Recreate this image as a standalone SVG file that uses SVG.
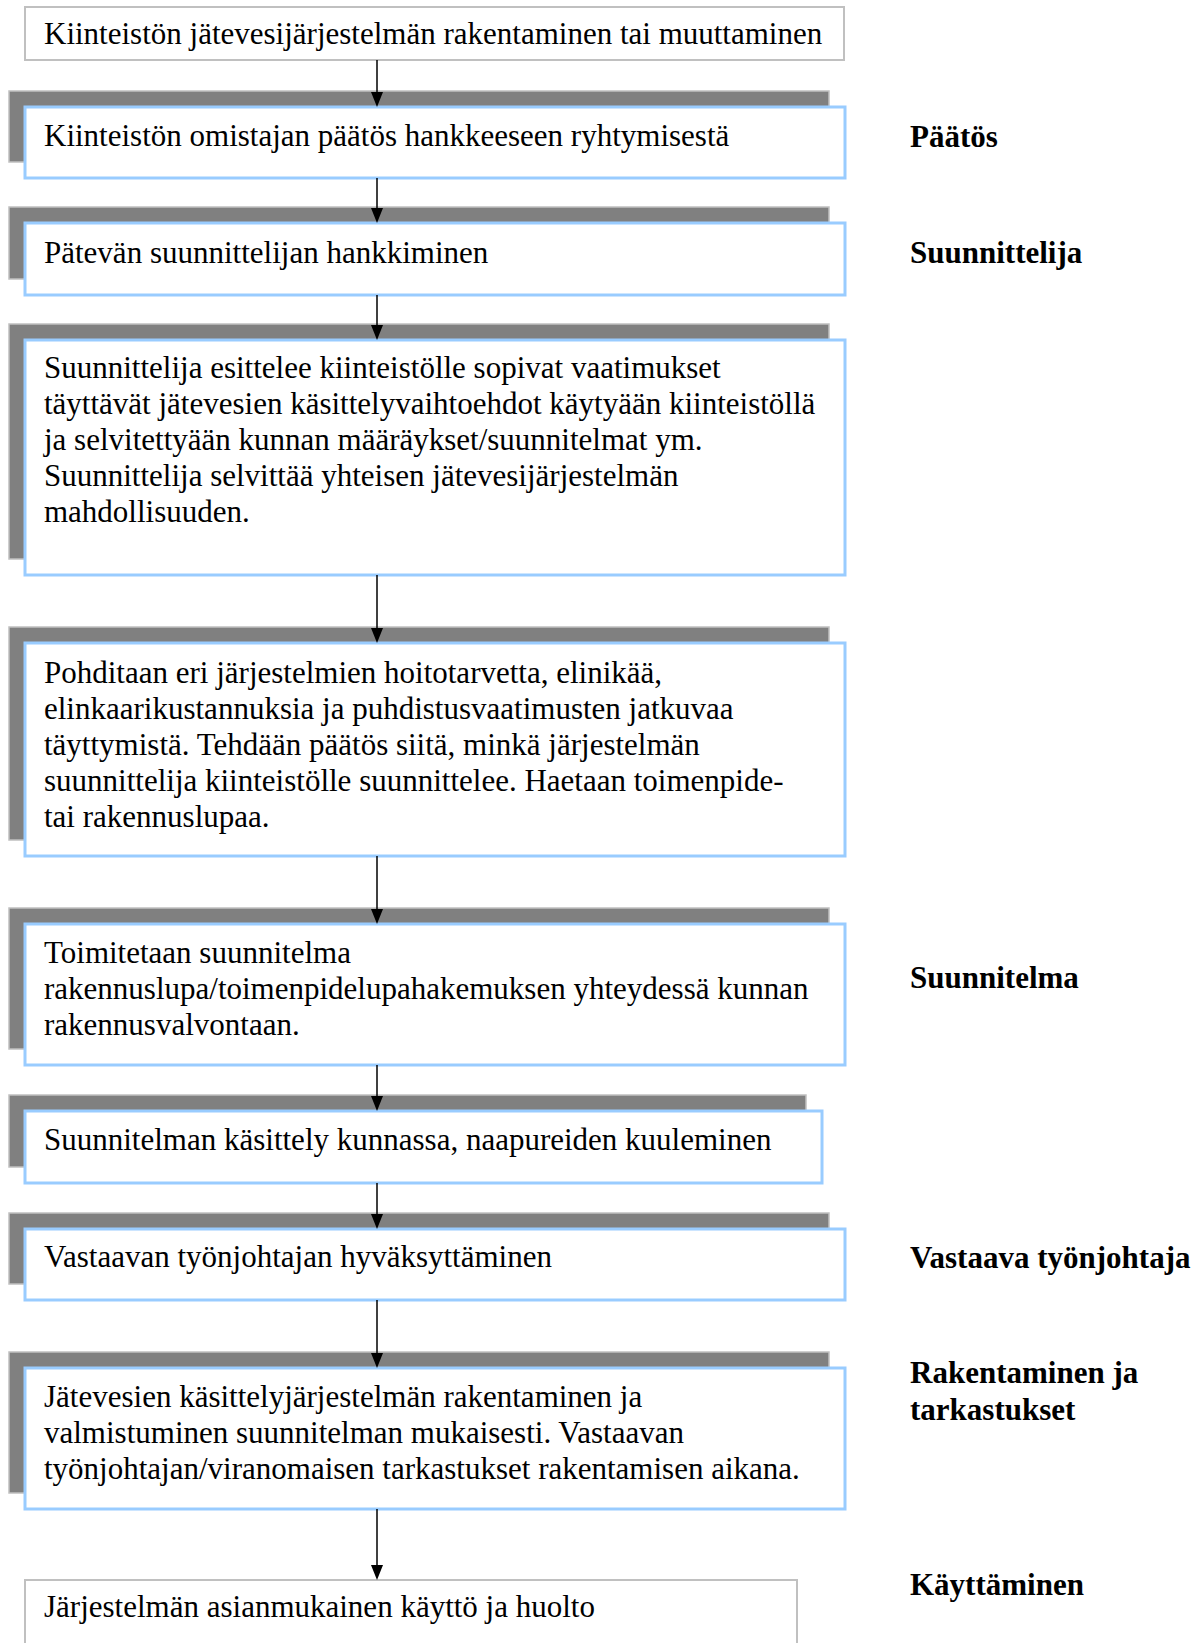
<svg xmlns="http://www.w3.org/2000/svg" width="1200" height="1643" viewBox="0 0 1200 1643">
<defs>
<style>
.t{font-family:"Liberation Serif","Times New Roman",serif;font-size:31px;fill:#000}
.lbl{font-family:"Liberation Serif","Times New Roman",serif;font-size:31px;font-weight:bold;fill:#000}
.sh{fill:#808080;stroke:#c0c0c0;stroke-width:1.5}
.mb{fill:#fff;stroke:#99ccff;stroke-width:3}
.pb{fill:#fff;stroke:#c0c0c0;stroke-width:2}
.c{stroke:#000;stroke-width:1.5;fill:none}
.ah{fill:#000}
</style>
</defs>
<rect width="1200" height="1643" fill="#fff"/>
<g id="n1"><rect class="pb" x="25" y="7" width="819" height="53"/><text class="t" x="44" y="44">Kiinteistön jätevesijärjestelmän rakentaminen tai muuttaminen</text></g>
<g id="n2"><rect class="sh" x="9" y="91" width="820" height="71"/><rect class="mb" x="25" y="107" width="820" height="71"/><text class="t" x="44" y="146">Kiinteistön omistajan päätös hankkeeseen ryhtymisestä</text></g>
<g id="n3"><rect class="sh" x="9" y="207" width="820" height="72"/><rect class="mb" x="25" y="223" width="820" height="72"/><text class="t" x="44" y="263">Pätevän suunnittelijan hankkiminen</text></g>
<g id="n4"><rect class="sh" x="9" y="324" width="820" height="235"/><rect class="mb" x="25" y="340" width="820" height="235"/><text class="t" x="44" y="378">Suunnittelija esittelee kiinteistölle sopivat vaatimukset</text><text class="t" x="44" y="414">täyttävät jätevesien käsittelyvaihtoehdot käytyään kiinteistöllä</text><text class="t" x="44" y="450">ja selvitettyään kunnan määräykset/suunnitelmat ym.</text><text class="t" x="44" y="486">Suunnittelija selvittää yhteisen jätevesijärjestelmän</text><text class="t" x="44" y="522">mahdollisuuden.</text></g>
<g id="n5"><rect class="sh" x="9" y="627" width="820" height="213"/><rect class="mb" x="25" y="643" width="820" height="213"/><text class="t" x="44" y="683">Pohditaan eri järjestelmien hoitotarvetta, elinikää,</text><text class="t" x="44" y="719">elinkaarikustannuksia ja puhdistusvaatimusten jatkuvaa</text><text class="t" x="44" y="755">täyttymistä. Tehdään päätös siitä, minkä järjestelmän</text><text class="t" x="44" y="791">suunnittelija kiinteistölle suunnittelee. Haetaan toimenpide-</text><text class="t" x="44" y="827">tai rakennuslupaa.</text></g>
<g id="n6"><rect class="sh" x="9" y="908" width="820" height="141"/><rect class="mb" x="25" y="924" width="820" height="141"/><text class="t" x="44" y="963">Toimitetaan suunnitelma</text><text class="t" x="44" y="999">rakennuslupa/toimenpidelupahakemuksen yhteydessä kunnan</text><text class="t" x="44" y="1035">rakennusvalvontaan.</text></g>
<g id="n7"><rect class="sh" x="9" y="1095" width="797" height="72"/><rect class="mb" x="25" y="1111" width="797" height="72"/><text class="t" x="44" y="1150">Suunnitelman käsittely kunnassa, naapureiden kuuleminen</text></g>
<g id="n8"><rect class="sh" x="9" y="1213" width="820" height="71"/><rect class="mb" x="25" y="1229" width="820" height="71"/><text class="t" x="44" y="1267">Vastaavan työnjohtajan hyväksyttäminen</text></g>
<g id="n9"><rect class="sh" x="9" y="1352" width="820" height="141"/><rect class="mb" x="25" y="1368" width="820" height="141"/><text class="t" x="44" y="1407">Jätevesien käsittelyjärjestelmän rakentaminen ja</text><text class="t" x="44" y="1443">valmistuminen suunnitelman mukaisesti. Vastaavan</text><text class="t" x="44" y="1479">työnjohtajan/viranomaisen tarkastukset rakentamisen aikana.</text></g>
<g id="n10"><rect class="pb" x="25" y="1580" width="772" height="80"/><text class="t" x="44" y="1617">Järjestelmän asianmukainen käyttö ja huolto</text></g>
<g id="labels">
<text class="lbl" x="910" y="147">Päätös</text>
<text class="lbl" x="910" y="263">Suunnittelija</text>
<text class="lbl" x="910" y="988">Suunnitelma</text>
<text class="lbl" x="910" y="1268">Vastaava työnjohtaja</text>
<text class="lbl" x="910" y="1383">Rakentaminen ja</text>
<text class="lbl" x="910" y="1420">tarkastukset</text>
<text class="lbl" x="910" y="1595">Käyttäminen</text>
</g>
<g id="connectors">
<path class="c" d="M377,60 V92"/><path class="ah" d="M371,92 L383,92 L377,107 Z"/>
<path class="c" d="M377,178 V208"/><path class="ah" d="M371,208 L383,208 L377,223 Z"/>
<path class="c" d="M377,295 V325"/><path class="ah" d="M371,325 L383,325 L377,340 Z"/>
<path class="c" d="M377,575 V628"/><path class="ah" d="M371,628 L383,628 L377,643 Z"/>
<path class="c" d="M377,856 V909"/><path class="ah" d="M371,909 L383,909 L377,924 Z"/>
<path class="c" d="M377,1065 V1096"/><path class="ah" d="M371,1096 L383,1096 L377,1111 Z"/>
<path class="c" d="M377,1183 V1214"/><path class="ah" d="M371,1214 L383,1214 L377,1229 Z"/>
<path class="c" d="M377,1300 V1353"/><path class="ah" d="M371,1353 L383,1353 L377,1368 Z"/>
<path class="c" d="M377,1509 V1565"/><path class="ah" d="M371,1565 L383,1565 L377,1580 Z"/>
</g>
</svg>
